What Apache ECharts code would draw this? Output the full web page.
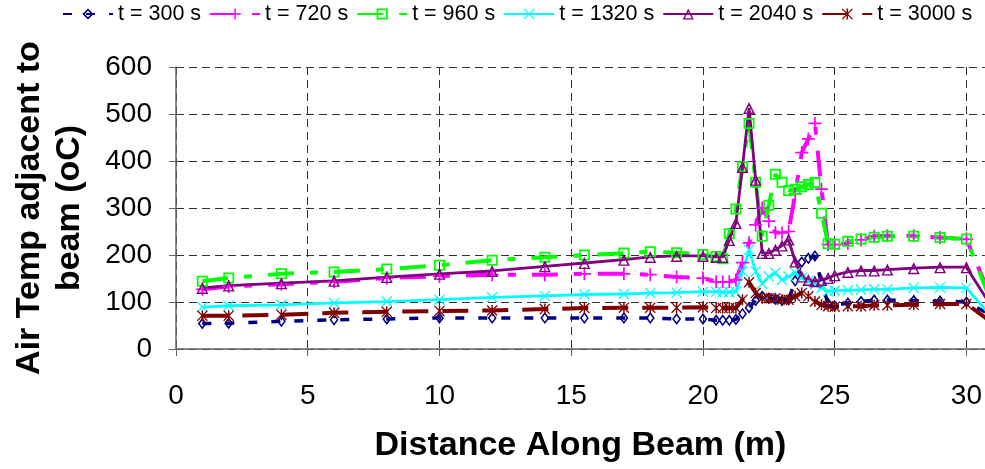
<!DOCTYPE html>
<html>
<head>
<meta charset="utf-8">
<script src="https://cdn.jsdelivr.net/npm/echarts@6/dist/echarts.min.js"></script>
<style>
    html, body { margin: 0; padding: 0; background: #fff; }
    #main { width: 985px; height: 469px; }
</style>
</head>
<body>
<div id="main"></div>
<script>
// distance along beam (m)
var dist = [1, 2, 4, 6, 8, 10, 12, 14, 15.5, 17, 18, 19,
    20, 20.5, 20.75, 21, 21.25, 21.5, 21.75, 22, 22.25, 22.5, 22.75, 23,
    23.25, 23.5, 23.75, 24, 24.25, 24.5, 24.75, 25,
    25.5, 26, 26.5, 27, 28, 29, 30, 31];

var t300 = [54, 55, 59, 62, 64, 66, 66, 66, 66, 66, 66, 64,
    64, 61, 61, 61, 63, 75, 88, 103, 112, 108, 106, 103,
    105, 145, 185, 193, 198, 140, 97, 92,
    98, 101, 104, 104, 103, 102, 100, 70];
var t720 = [127, 133, 138, 143, 151, 155, 158, 158, 160, 160, 158, 153,
    151, 143, 143, 143, 147, 184, 226, 264, 300, 272, 248, 247,
    250, 330, 418, 447, 480, 340, 222, 222,
    225, 232, 240, 241, 241, 237, 234, 100];
var t960 = [144, 151, 160, 164, 170, 178, 189, 195, 200, 204, 207, 205,
    201, 197, 192, 245, 298, 388, 480, 355, 240, 306, 372, 355,
    337, 340, 345, 350, 354, 289, 224, 223,
    229, 234, 238, 240, 240, 237, 234, 92];
var t1320 = [89, 92, 94, 98, 101, 105, 110, 113, 116, 117, 119, 120,
    122, 122, 121, 121, 122, 165, 211, 165, 139, 154, 162, 147,
    154, 162, 151, 144, 137, 130, 123, 124,
    125, 126, 127, 127, 130, 131, 130, 65];
var t2040 = [130, 135, 140, 145, 153, 160, 166, 176, 183, 190, 196, 198,
    198, 196, 196, 232, 268, 387, 513, 360, 204, 204, 211, 220,
    233, 186, 154, 147, 144, 147, 151, 157,
    164, 167, 167, 169, 172, 174, 174, 86];
var t3000 = [71, 71, 73, 77, 79, 81, 82, 85, 87, 88, 88, 88,
    89, 87, 87, 87, 87, 105, 142, 119, 108, 108, 108, 105,
    105, 112, 119, 112, 101, 94, 91, 90,
    91, 91, 93, 93, 94, 96, 96, 55];

var names = ['t = 300 s', 't = 720 s', 't = 960 s', 't = 1320 s', 't = 2040 s', 't = 3000 s'];
var yTicks = [0, 100, 200, 300, 400, 500, 600];

function pairs(vals) {
    return dist.map(function (x, i) { return [x, vals[i]]; });
}

// marker shapes (hollow ones cut out with a reversed inner path)
var symDiamond = 'path://M5,0 L10,6 L5,12 L0,6 Z M5,2.6 L2.1,6 L5,9.4 L7.9,6 Z';
var symPlus = 'path://M0,5.2 H12 V6.8 H0 Z M5.2,0 H6.8 V12 H5.2 Z';
var symSquare = 'path://M0,0 H10 V10 H0 Z M1.6,1.6 V8.4 H8.4 V1.6 Z';
var symCross = 'path://M0,1 L1,0 L12,11 L11,12 Z M11,0 L12,1 L1,12 L0,11 Z';
var symTri = 'path://M5,0 L10,10 L0,10 Z M5,3.1 L1.9,8.9 L8.1,8.9 Z';
var symStar = 'path://M0,1 L1,0 L12,11 L11,12 Z M11,0 L12,1 L1,12 L0,11 Z M5.2,0 H6.8 V12 H5.2 Z';

function line(name, vals, color, width, dash, symbol, size) {
    return {
        name: name,
        type: 'line',
        data: pairs(vals),
        color: color,
        clip: false,
        symbol: symbol,
        symbolSize: size,
        showAllSymbol: true,
        lineStyle: { color: color, width: width, type: dash },
        itemStyle: { color: color, borderWidth: 0 }
    };
}

var font = 'Liberation Sans, Arial, sans-serif';
var grid = '#333';
var chart = echarts.init(document.getElementById('main'));

chart.setOption({
    animation: false,
    backgroundColor: '#fff',
    legend: {
        data: names,
        left: 57,
        top: -2,
        width: 980,
        itemWidth: 50,
        itemHeight: 14,
        itemGap: 8,
        textStyle: { fontFamily: font, fontSize: 21.5, color: '#000' }
    },
    grid: { left: 176, right: 0, top: 67, bottom: 120 },
    xAxis: {
        type: 'value',
        min: 0,
        max: 30.7,
        interval: 5,
        name: 'Distance Along Beam (m)',
        nameLocation: 'middle',
        nameGap: 80,
        nameTextStyle: { fontFamily: font, fontSize: 34, fontWeight: 'bold', color: '#000' },
        axisLine: { lineStyle: { color: '#666', width: 1.5 } },
        axisTick: { show: true, length: 7, lineStyle: { color: '#666' } },
        axisLabel: { fontFamily: font, fontSize: 28, color: '#000', margin: 33, showMaxLabel: false },
        // last split line sits on the cut right edge, keep it invisible
        splitLine: { show: true, lineStyle: { color: [grid, grid, grid, grid, grid, grid, grid, 'rgba(0,0,0,0)'], width: 1, type: [8, 5] } }
    },
    yAxis: {
        type: 'value',
        min: yTicks[0],
        max: yTicks[yTicks.length - 1],
        interval: 100,
        name: 'Air Temp adjacent to\nbeam (oC)',
        nameLocation: 'middle',
        nameGap: 86,
        nameTextStyle: { fontFamily: font, fontSize: 34, fontWeight: 'bold', color: '#000', lineHeight: 40 },
        axisLine: { show: true, lineStyle: { color: '#666', width: 1.5 } },
        axisTick: { show: true, length: 7, lineStyle: { color: '#666' } },
        axisLabel: { fontFamily: font, fontSize: 28, color: '#000', margin: 24 },
        splitLine: { show: true, lineStyle: { color: grid, width: 1, type: [8, 5] } }
    },
    series: [
        line(names[0], t300, '#000080', 3.5, [9, 14], symDiamond, [9, 12]),
        line(names[1], t720, '#ff00ff', 4, [26, 16, 8, 16], symPlus, 13),
        line(names[2], t960, '#00ff00', 4, [26, 16, 8, 16], symSquare, 11),
        line(names[3], t1320, '#00ffff', 2.8, 'solid', symCross, 11),
        line(names[4], t2040, '#800080', 2.8, 'solid', symTri, 12),
        line(names[5], t3000, '#800000', 4, [26, 14], symStar, 11)
    ]
});
</script>
</body>
</html>
